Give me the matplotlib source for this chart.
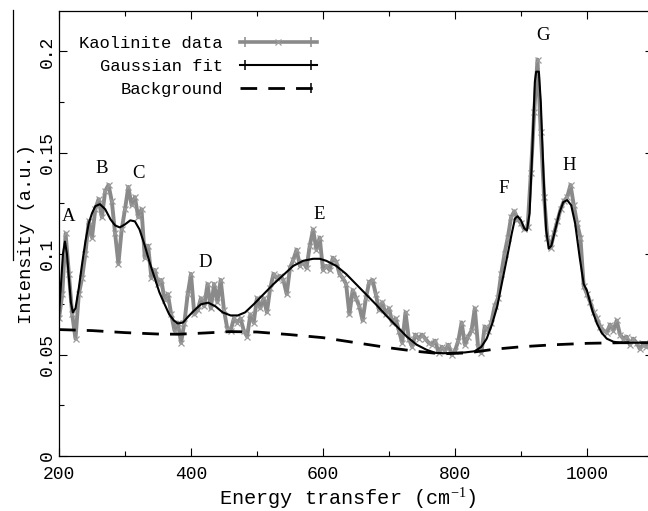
import numpy as np
import matplotlib
matplotlib.use("Agg")
import matplotlib.pyplot as plt
from matplotlib.lines import Line2D
from matplotlib.legend_handler import HandlerLine2D, HandlerTuple

plt.rcParams['mathtext.fontset'] = 'custom'
plt.rcParams['mathtext.rm'] = 'Liberation Serif'
plt.rcParams['mathtext.it'] = 'Liberation Serif:italic'

MONO = 'Liberation Mono'
SERIF = 'Liberation Serif'

# ---------------- data ----------------
data_x = np.arange(200, 1100, 5)
data_y = [
    0.068, 0.080, 0.110, 0.090, 0.070, 0.058, 0.080, 0.088, 0.100, 0.116,
    0.108, 0.122, 0.127, 0.118, 0.131, 0.134, 0.126, 0.110, 0.095, 0.112,
    0.122, 0.133, 0.124, 0.128, 0.118, 0.122, 0.098, 0.104, 0.088, 0.092,
    0.085, 0.087, 0.077, 0.080, 0.070, 0.062, 0.066, 0.056, 0.066, 0.080,
    0.090, 0.070, 0.072, 0.078, 0.074, 0.085, 0.073, 0.085, 0.076, 0.087,
    0.072, 0.063, 0.062, 0.068, 0.066, 0.068, 0.062, 0.059, 0.070, 0.066,
    0.078, 0.073, 0.078, 0.071, 0.083, 0.090, 0.088, 0.089, 0.087, 0.080,
    0.093, 0.097, 0.102, 0.094, 0.096, 0.093, 0.104, 0.112, 0.102, 0.108,
    0.092, 0.094, 0.092, 0.098, 0.096, 0.090, 0.088, 0.085, 0.070, 0.082,
    0.078, 0.074, 0.067, 0.078, 0.086, 0.087, 0.080, 0.072, 0.076, 0.070,
    0.073, 0.066, 0.068, 0.062, 0.056, 0.071, 0.058, 0.054, 0.060, 0.058,
    0.060, 0.058, 0.056, 0.055, 0.057, 0.051, 0.054, 0.052, 0.055, 0.050,
    0.052, 0.057, 0.066, 0.055, 0.059, 0.062, 0.073, 0.054, 0.051, 0.064,
    0.062, 0.066, 0.074, 0.078, 0.090, 0.100, 0.108, 0.118, 0.121, 0.117,
    0.115, 0.112, 0.113, 0.140, 0.170, 0.196, 0.160, 0.128, 0.108, 0.103,
    0.110, 0.116, 0.122, 0.126, 0.128, 0.134, 0.124, 0.115, 0.108, 0.084,
    0.080, 0.076, 0.071, 0.068, 0.064, 0.062, 0.061, 0.065, 0.062, 0.067,
    0.060, 0.058, 0.059, 0.055, 0.058, 0.056, 0.053, 0.055, 0.054, 0.056,
]

fit_x = [200, 203, 206, 209, 212, 215, 218, 221, 225, 230, 235, 240, 245, 250,
         255, 262, 270, 278, 285, 292, 300, 308, 315, 322, 330, 338, 345, 352,
         360, 367, 374, 380, 388, 396, 405, 415, 426, 437, 448, 460, 471, 482,
         495, 510, 525, 540, 555, 570, 585, 595, 605, 620, 635, 650, 665, 680,
         697, 712, 727, 742, 757, 770, 785, 800, 815, 830, 840, 848, 856, 864,
         872, 880, 886, 891, 895, 900, 905, 909, 913, 917, 921, 923, 927, 930,
         934, 938, 942, 946, 952, 958, 964, 970, 976, 982, 989, 995, 1000, 1008,
         1015, 1022, 1030, 1040, 1050, 1100]
fit_y = [0.070, 0.085, 0.100, 0.106, 0.100, 0.088, 0.076, 0.071, 0.073, 0.083,
         0.095, 0.106, 0.115, 0.120, 0.1235, 0.1245, 0.122, 0.117, 0.114, 0.113,
         0.1145, 0.1165, 0.116, 0.112, 0.104, 0.095, 0.088, 0.081, 0.075, 0.070,
         0.067, 0.0655, 0.066, 0.069, 0.072, 0.075, 0.0758, 0.074, 0.071, 0.0695,
         0.0695, 0.071, 0.075, 0.080, 0.085, 0.0895, 0.094, 0.0965, 0.0975, 0.0975,
         0.0965, 0.094, 0.090, 0.085, 0.080, 0.075, 0.069, 0.064, 0.059, 0.055,
         0.0525, 0.051, 0.0508, 0.051, 0.0512, 0.0518, 0.054, 0.058, 0.065, 0.074,
         0.087, 0.100, 0.110, 0.1175, 0.1185, 0.1165, 0.1125, 0.1115, 0.120, 0.150,
         0.185, 0.190, 0.190, 0.175, 0.140, 0.112, 0.1025, 0.104, 0.112, 0.120,
         0.1255, 0.1265, 0.124, 0.115, 0.098, 0.085, 0.0817, 0.072, 0.0655, 0.061,
         0.058, 0.0565, 0.056, 0.056]

bg_x = [200, 250, 300, 350, 380, 420, 460, 500, 550, 600, 650, 700, 740, 780,
        820, 860, 900, 950, 1000, 1050, 1100]
bg_y = [0.0625, 0.0620, 0.0610, 0.0603, 0.0602, 0.0608, 0.0615, 0.0613, 0.0600,
        0.0585, 0.0560, 0.0535, 0.0518, 0.0505, 0.0510, 0.0528, 0.0540, 0.0550,
        0.0557, 0.0560, 0.0560]

peak_labels = ['A', 'B', 'C', 'D', 'E', 'F', 'G', 'H']
peak_x = [215, 265, 320, 421, 595, 873, 933, 973]
peak_y = [0.1186, 0.142, 0.1397, 0.0955, 0.1196, 0.132, 0.208, 0.1437]

# ---------------- figure ----------------
W, H = 648, 511
fig = plt.figure(figsize=(W / 100, H / 100), dpi=100)
ax = fig.add_axes([59 / W, 1 - 456 / H, 594 / W, 445 / H])

GRAY = '#8a8a8a'
data_line, = ax.plot(data_x, data_y, color=GRAY, lw=2.8, marker='x', ms=4,
                     mec='#9a9a9a', mew=0.9, zorder=2)
fit_line, = ax.plot(fit_x, fit_y, color='black', lw=1.5, zorder=3)
bg_line, = ax.plot(bg_x, bg_y, color='black', lw=2.0, dashes=(6, 4), zorder=3)

for lab, px, py in zip(peak_labels, peak_x, peak_y):
    ax.text(px, py, lab, fontsize=13.5, family=SERIF, ha='center', va='center')

ax.set_xlim(200, 1100)
ax.set_ylim(0, 0.22)
ax.set_xticks([200, 400, 600, 800, 1000])
ax.set_xticks([300, 500, 700, 900], minor=True)
ax.set_yticks([0, 0.05, 0.1, 0.15, 0.2])
ax.set_yticklabels(['0', '0.05', '0.1', '0.15', '0.2'])
ax.set_yticks([0.025, 0.075, 0.125, 0.175], minor=True)
ax.tick_params(which='both', direction='in', top=True, right=True, width=0.8)
ax.tick_params(which='major', length=6)
ax.tick_params(which='minor', length=3.5)
ax.tick_params(axis='x', pad=7, labelsize=13)
ax.tick_params(axis='y', pad=2, labelsize=13)
for lbl in ax.get_xticklabels() + ax.get_yticklabels():
    lbl.set_family(MONO)
for lbl in ax.get_yticklabels():
    lbl.set_rotation(90)
    lbl.set_va('center')
for sp in ax.spines.values():
    sp.set_linewidth(0.9)

ax.set_xlabel('Energy transfer (cm$^{-1}$)', family=MONO, fontsize=14.6, labelpad=1)
ax.xaxis.set_label_coords(0.4865, -0.068)
ax.set_ylabel('Intensity (a.u.)', family=MONO, fontsize=13.5, labelpad=3)

# vertical rule to the left of the y label
fig.add_artist(Line2D([13 / W, 13 / W], [1 - 10 / H, 1 - 260 / H],
                      transform=fig.transFigure, color='black', lw=0.9))

# ---------------- legend ----------------
cap_kw = dict(linestyle='none', marker='|', ms=7, mew=1.1)
h_data_line = Line2D([], [], color=GRAY, lw=2.6)
h_data_caps = Line2D([], [], color=GRAY, **cap_kw)
h_data_mark = Line2D([], [], color='#9a9a9a', linestyle='none', marker='x', ms=4, mew=0.9)
h_fit_line = Line2D([], [], color='black', lw=1.5)
h_fit_caps = Line2D([], [], color='black', **cap_kw)
h_bg_line = Line2D([], [], color='black', lw=2.0, dashes=(6, 4))
h_bg_cap = Line2D([], [], color='black', **cap_kw)

class RightCapHandler(HandlerLine2D):
    def create_artists(self, legend, orig_handle, xdescent, ydescent,
                       width, height, fontsize, trans):
        arts = super().create_artists(legend, orig_handle, xdescent, ydescent,
                                      width, height, fontsize, trans)
        for a in arts:
            xd = a.get_xdata()
            if len(xd) > 1 and a.get_linestyle() in ('None', 'none', ''):
                a.set_data([xd[-1]], [a.get_ydata()[-1]])
        return arts

handler_map = {
    h_data_caps: HandlerLine2D(numpoints=2),
    h_data_mark: HandlerLine2D(numpoints=1),
    h_fit_caps: HandlerLine2D(numpoints=2),
    h_bg_cap: RightCapHandler(numpoints=2),
    tuple: HandlerTuple(ndivide=1, pad=0),
}

leg = ax.legend([(h_data_line, h_data_caps, h_data_mark),
                 (h_fit_line, h_fit_caps),
                 (h_bg_line, h_bg_cap)],
                ['Kaolinite data', 'Gaussian fit', 'Background'],
                handler_map=handler_map, loc='upper left',
                bbox_to_anchor=(0.008, 0.978), frameon=False,
                markerfirst=False, handlelength=4.5, handletextpad=1.0,
                labelspacing=0.45, prop={'family': MONO, 'size': 12.3})
for t in leg.get_texts():
    t.set_ha('right')
leg._legend_box.align = 'right'

fig.savefig('out.png', dpi=100)
